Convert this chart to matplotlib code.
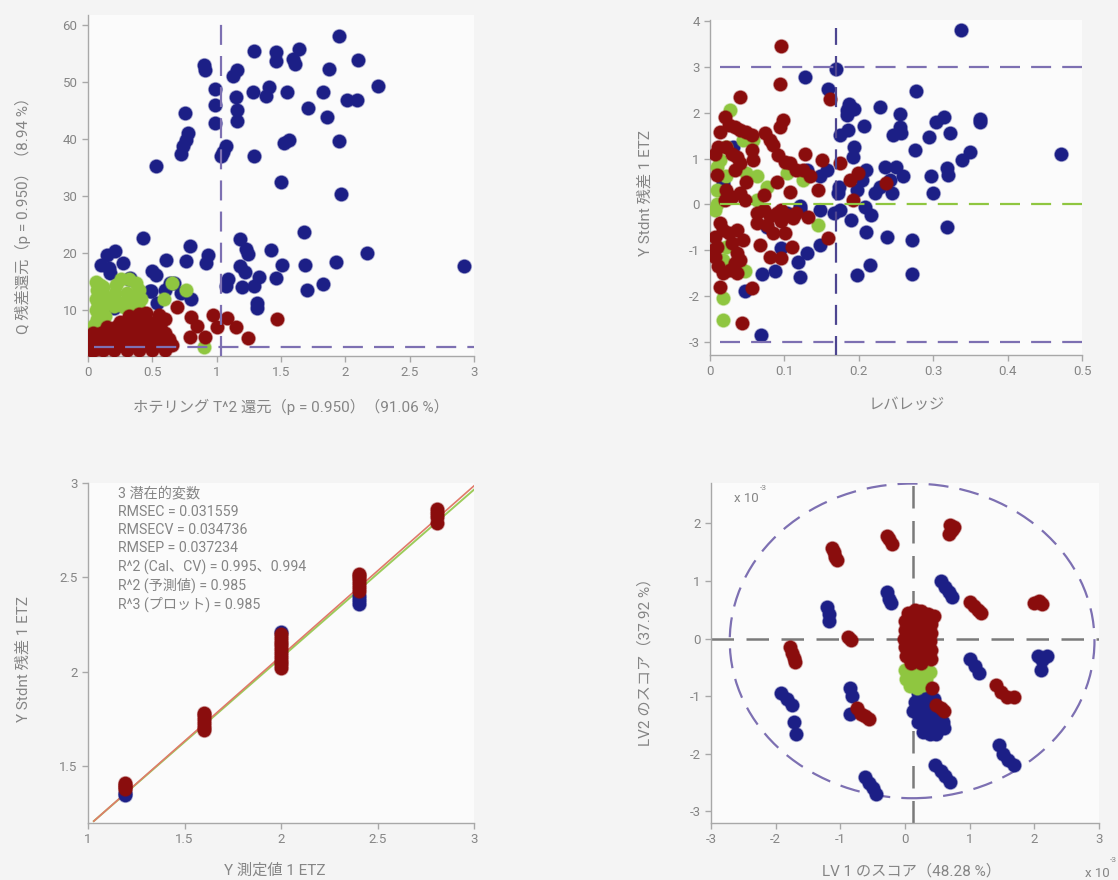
import matplotlib
matplotlib.use("Agg")
import matplotlib.pyplot as plt
from matplotlib.patches import Ellipse
from matplotlib.ticker import FuncFormatter

plt.rcParams['font.family'] = ['Roboto', 'Noto Sans CJK JP', 'DejaVu Sans']

BLUE = '#1c1f86'
RED = '#8a0d0d'
GREEN = '#8fc640'
PURPLE = '#7d70b2'
GRAY_TXT = '#858585'

# ---------------- Plot 1: Hotelling T^2 vs Q residual ----------------
p1_blue_x = [1.95, 1.64, 1.29, 1.46, 1.46, 1.59, 1.61, 2.10, 0.90, 0.91, 1.16, 1.13, 1.87, 1.28, 1.41, 1.38,
             1.55, 0.99, 1.15, 1.83, 2.25, 2.01, 2.09, 0.99, 1.71, 1.16, 1.16, 0.75, 0.99, 1.86, 0.78, 0.76,
             0.74, 0.72, 1.07, 1.03, 1.05, 1.29, 1.52, 1.56, 1.95, 0.53, 1.50, 1.97, 1.68, 0.43, 0.79, 1.18,
             1.23, 1.24, 1.42, 2.17, 2.92, 0.93, 0.92, 0.76, 0.61, 0.21, 0.15, 0.10, 0.16, 0.27, 1.18, 1.22,
             1.51, 1.69, 1.93, 1.09, 1.07, 1.33, 1.29, 1.20, 1.46, 1.83, 1.70, 1.31, 1.31, 0.50, 0.53, 0.49,
             0.60, 0.67, 0.80, 0.32, 0.54, 0.16, 0.20, 0.41, 0.17, 0.33, 0.64, 0.72, 0.48]
p1_blue_y = [58.1, 55.8, 55.4, 55.3, 53.6, 54.0, 53.2, 53.8, 53.0, 52.1, 52.1, 51.1, 52.3, 48.3, 49.1, 47.5,
             48.3, 48.7, 47.3, 48.2, 49.2, 46.9, 46.9, 46.0, 45.4, 45.1, 43.1, 44.5, 42.8, 43.8, 41.0, 39.9,
             38.7, 37.4, 38.7, 37.0, 37.8, 37.1, 39.3, 39.9, 39.6, 35.2, 32.4, 30.4, 23.7, 22.6, 21.3, 22.4,
             20.7, 19.9, 20.5, 20.0, 17.7, 19.7, 18.3, 18.6, 18.8, 20.3, 19.7, 17.9, 17.4, 18.3, 17.7, 16.7,
             17.9, 18.0, 18.5, 15.5, 14.2, 15.8, 14.2, 14.1, 15.7, 14.6, 13.6, 11.2, 10.4, 16.8, 16.1, 13.3,
             13.6, 14.7, 12.0, 15.5, 11.3, 11.3, 10.4, 9.0, 16.6, 15.7, 14.8, 13.1, 13.3]

p1_green_x = [0.06, 0.09, 0.07, 0.11, 0.06, 0.10, 0.08, 0.12, 0.06, 0.09, 0.13, 0.07, 0.10, 0.05, 0.12, 0.14,
              0.22, 0.26, 0.32, 0.37, 0.40, 0.41, 0.39, 0.34, 0.28, 0.23, 0.21, 0.30, 0.33, 0.20,
              0.65, 0.76, 0.59, 0.90]
p1_green_y = [15.0, 14.5, 13.5, 13.0, 12.0, 12.0, 11.0, 10.5, 10.0, 9.5, 9.0, 8.5, 8.0, 7.5, 14.0, 12.0,
              14.5, 15.5, 15.5, 14.8, 13.5, 12.0, 10.8, 10.2, 10.5, 11.5, 13.0, 13.0, 12.0, 10.8,
              14.8, 13.6, 11.9, 3.5]

p1_red_x = [0.02, 0.05, 0.12, 0.20, 0.30, 0.40, 0.50, 0.60,
            0.03, 0.10, 0.18, 0.26, 0.34, 0.42, 0.50, 0.58, 0.65,
            0.02, 0.06, 0.14, 0.22, 0.30, 0.38, 0.46, 0.55, 0.63,
            0.04, 0.10, 0.18, 0.26, 0.34, 0.45, 0.52, 0.60,
            0.15, 0.22, 0.30, 0.38, 0.48, 0.56,
            0.25, 0.35, 0.45, 0.52, 0.45, 0.60,
            0.32, 0.40, 0.55,
            0.69, 0.97, 1.08, 1.00, 1.15, 1.24, 1.47, 0.80, 0.85, 0.91, 0.79]
p1_red_y = [3.0, 3.0, 3.0, 3.0, 3.0, 3.0, 3.0, 3.0,
            4.0, 4.0, 4.0, 4.0, 4.0, 4.0, 4.0, 4.0, 4.0,
            5.0, 5.0, 5.0, 5.0, 5.0, 5.0, 5.0, 5.0, 5.0,
            6.0, 6.0, 6.0, 6.0, 6.0, 6.0, 6.0, 6.0,
            7.0, 7.0, 7.0, 7.0, 7.0, 7.0,
            8.0, 8.0, 8.0, 8.0, 9.5, 8.5,
            9.0, 9.3, 9.2,
            10.6, 9.2, 8.7, 7.0, 7.0, 5.2, 8.4, 8.9, 7.2, 5.4, 5.4]

p1_t2_limit = 1.03
p1_q_limit = 3.5

# ---------------- Plot 2: leverage vs studentized residual ----------------
p2_blue_x = [0.337, 0.170, 0.128, 0.159, 0.277, 0.187, 0.184, 0.193, 0.184, 0.228, 0.255, 0.207, 0.175, 0.186,
             0.255, 0.257, 0.246, 0.295, 0.304, 0.315, 0.323, 0.363, 0.363, 0.349, 0.339, 0.193, 0.192, 0.275,
             0.472, 0.318, 0.320, 0.297, 0.260, 0.235, 0.250, 0.242, 0.229, 0.244, 0.222, 0.300, 0.210, 0.204,
             0.197, 0.172, 0.174, 0.157, 0.148, 0.166, 0.175, 0.189, 0.208, 0.217, 0.318, 0.210, 0.238, 0.271,
             0.215, 0.198, 0.272, 0.130, 0.118, 0.121, 0.087, 0.070, 0.069, 0.047, 0.148, 0.096, 0.121, 0.148,
             0.031, 0.018, 0.103, 0.076, 0.121, 0.130]
p2_blue_y = [3.81, 2.96, 2.77, 2.51, 2.48, 2.20, 2.06, 2.09, 1.95, 2.13, 1.98, 1.71, 1.51, 1.62,
             1.69, 1.55, 1.51, 1.46, 1.80, 1.91, 1.55, 1.87, 1.80, 1.15, 0.97, 1.26, 1.04, 1.19,
             1.11, 0.79, 0.64, 0.63, 0.61, 0.82, 0.82, 0.53, 0.39, 0.24, 0.24, 0.24, 0.75, 0.53,
             0.31, 0.24, 0.39, 0.75, 0.61, -0.19, -0.13, -0.34, -0.06, -0.23, -0.48, -0.59, -0.70, -0.77,
             -1.32, -1.53, -1.51, -1.06, -1.26, -1.57, -1.46, -1.51, -2.84, -1.88, -0.88, -0.95, -0.10, -0.12,
             1.26, 0.46, -0.19, -0.48, -0.03, 0.75]

p2_green_x = [0.027, 0.018, 0.018, 0.047, 0.145, 0.009, 0.013, 0.022, 0.009, 0.007, 0.049, 0.063, 0.063,
              0.022, 0.018, 0.022, 0.045, 0.058, 0.103, 0.125, 0.076, 0.009]
p2_green_y = [2.06, -2.04, -2.51, -1.46, -0.45, 0.82, 0.97, 0.61, 0.00, -0.12, 0.68, 0.61, 0.10,
              -0.92, -1.21, 1.26, 1.40, 1.40, 0.68, 0.53, 0.39, 0.31]

p2_red_x = [0.096, 0.094, 0.040, 0.161, 0.098, 0.094, 0.020, 0.025, 0.034, 0.040, 0.049, 0.056, 0.013, 0.011,
            0.007, 0.022, 0.029, 0.036, 0.040, 0.034, 0.009, 0.074, 0.081, 0.085, 0.056, 0.058, 0.092, 0.101,
            0.107, 0.116, 0.125, 0.134, 0.128, 0.150, 0.175, 0.199, 0.188, 0.237, 0.145, 0.107, 0.090, 0.049,
            0.040, 0.029, 0.022, 0.047, 0.072, 0.192, 0.063, 0.072, 0.081, 0.090, 0.096, 0.103, 0.112, 0.116,
            0.096, 0.063, 0.076, 0.085, 0.101, 0.067, 0.132, 0.110, 0.081, 0.096, 0.159, 0.013, 0.018, 0.007,
            0.009, 0.007, 0.011, 0.018, 0.027, 0.034, 0.036, 0.029, 0.025, 0.036, 0.045, 0.040, 0.013, 0.056,
            0.043, 0.036, 0.004, 0.020]
p2_red_y = [3.46, 2.62, 2.35, 2.30, 1.84, 1.69, 1.91, 1.73, 1.69, 1.62, 1.58, 1.51, 1.58, 1.26,
            1.11, 1.26, 1.11, 1.04, 0.90, 0.75, 0.64, 1.55, 1.40, 1.29, 1.18, 0.97, 1.08, 0.93,
            0.90, 0.75, 0.75, 0.61, 1.11, 0.97, 0.90, 0.68, 0.53, 0.47, 0.31, 0.28, 0.50, 0.50,
            0.24, 0.17, 0.31, 0.10, 0.21, 0.10, -0.19, -0.12, -0.26, -0.19, -0.12, -0.23, -0.30, -0.19,
            -0.37, -0.41, -0.45, -0.63, -0.63, -0.88, -0.27, -0.92, -1.14, -1.17, -0.74, -0.41, -0.56, -0.70,
            -0.92, -1.14, -1.35, -1.50, -1.43, -1.28, -1.06, -0.85, -0.63, -0.56, -0.77, -1.21, -1.79, -1.82,
            -2.59, -1.50, -1.00, 0.10]

p2_leverage_limit = 0.170
p2_resid_limits = [3.0, -3.0]

# ---------------- Plot 3: predicted vs measured ----------------
p3_red_x = [1.193] * 4 + [1.602] * 6 + [2.001] * 10 + [2.405] * 6 + [2.810] * 4
p3_red_y = [1.38, 1.39, 1.40, 1.41,
            1.69, 1.71, 1.73, 1.75, 1.77, 1.78,
            2.02, 2.04, 2.06, 2.08, 2.10, 2.12, 2.14, 2.16, 2.18, 2.20,
            2.43, 2.45, 2.47, 2.49, 2.51, 2.52,
            2.79, 2.82, 2.84, 2.86]
p3_blue_x = [1.193, 1.193, 2.001, 2.405, 2.405, 2.405]
p3_blue_y = [1.35, 1.36, 2.21, 2.36, 2.38, 2.40]
p3_fit_x = [1.03, 3.0]
p3_fit_red_y = [1.21, 2.985]
p3_fit_green_y = [1.21, 2.965]
p3_stats = ["3 潜在的変数",
            "RMSEC = 0.031559",
            "RMSECV = 0.034736",
            "RMSEP = 0.037234",
            "R^2 (Cal、CV) = 0.995、0.994",
            "R^2 (予測値) = 0.985",
            "R^3 (プロット) = 0.985"]

# ---------------- Plot 4: scores (x 1e-3) ----------------
p4_red_x = [0.70, 0.75, 0.72, 0.68, -0.28, -0.24, -0.20, -1.13, -1.10, -1.08, -1.05,
            1.00, 1.07, 1.13, 1.17, 2.00, 2.07, 2.12, -0.88, -0.83,
            -1.78, -1.75, -1.72, -1.70, -0.75, -0.68, -0.62, -0.55,
            1.40, 1.48, 1.58, 1.68, 0.42, 0.48, 0.55, 0.60,
            0.05, 0.15, 0.25, 0.35, 0.45, 0.00, 0.10, 0.20, 0.30, 0.40, 0.00, 0.10, 0.20, 0.30, 0.40,
            -0.02, 0.08, 0.18, 0.28, 0.38, 0.00, 0.10, 0.20, 0.30, 0.40, 0.02, 0.12, 0.22, 0.32, 0.40,
            0.10, 0.25]
p4_red_y = [1.97, 1.93, 1.88, 1.82, 1.78, 1.72, 1.65, 1.58, 1.50, 1.42, 1.36,
            0.63, 0.57, 0.50, 0.45, 0.62, 0.66, 0.60, 0.03, -0.03,
            -0.15, -0.25, -0.33, -0.40, -1.20, -1.30, -1.35, -1.40,
            -0.80, -0.92, -1.02, -1.02, -0.86, -1.15, -1.20, -1.25,
            0.45, 0.50, 0.48, 0.42, 0.40, 0.30, 0.32, 0.30, 0.28, 0.25, 0.15, 0.15, 0.12, 0.10, 0.10,
            0.00, 0.00, -0.02, -0.02, -0.05, -0.15, -0.15, -0.15, -0.18, -0.20, -0.30, -0.30, -0.32, -0.32, -0.35,
            -0.42, -0.42]
p4_blue_x = [0.55, 0.62, 0.68, 0.72, -0.28, -0.25, -0.21, -1.20, -1.18, -1.17,
             1.00, 1.08, 1.15, 2.05, 2.20, 2.12, 2.10,
             -1.92, -1.83, -1.75, -1.72, -1.68, -0.85, -0.82, -0.85,
             -0.62, -0.55, -0.50, -0.45, 0.47, 0.55, 0.62, 0.70, 1.45, 1.52, 1.60, 1.68,
             0.20, 0.30, 0.15, 0.25, 0.35, 0.45, 0.12, 0.22, 0.32, 0.42, 0.52, 0.20, 0.30, 0.40, 0.50,
             0.28, 0.38, 0.48, 0.58, 0.60]
p4_blue_y = [1.00, 0.90, 0.80, 0.72, 0.80, 0.68, 0.62, 0.55, 0.42, 0.30,
             -0.35, -0.48, -0.60, -0.30, -0.30, -0.38, -0.55,
             -0.95, -1.05, -1.15, -1.45, -1.65, -0.85, -1.00, -1.30,
             -2.40, -2.50, -2.60, -2.70, -2.20, -2.30, -2.38, -2.48, -1.85, -2.00, -2.10, -2.20,
             -0.95, -0.98, -1.10, -1.10, -1.15, -1.05, -1.25, -1.30, -1.30, -1.35, -1.35, -1.45, -1.50, -1.50, -1.50,
             -1.62, -1.65, -1.65, -1.45, -1.55]
p4_green_x = [0.00, 0.10, 0.20, 0.30, 0.38, 0.02, 0.12, 0.22, 0.32, 0.08, 0.18, 0.28]
p4_green_y = [-0.55, -0.55, -0.55, -0.55, -0.58, -0.70, -0.70, -0.70, -0.70, -0.82, -0.85, -0.80]
p4_ellipse_center = (0.11, -0.04)
p4_ellipse_axes = (5.64, 5.46)
p4_cross = (0.13, 0.0)

# ---------------- Layout helpers ----------------
W, H = 1118, 880
fig = plt.figure(figsize=(W / 100, H / 100), dpi=100, facecolor='#f4f4f4')


def px(x, y):
    return x / W, 1 - y / H


def make_ax(l, t, r, b):
    ax = fig.add_axes([l / W, 1 - b / H, (r - l) / W, (b - t) / H])
    ax.set_facecolor('#fbfbfb')
    for s in ('top', 'right'):
        ax.spines[s].set_visible(False)
    for s in ('left', 'bottom'):
        ax.spines[s].set_color('#a8a8a8')
        ax.spines[s].set_linewidth(1.0)
    ax.tick_params(colors='#a8a8a8', labelcolor=GRAY_TXT, labelsize=9.5, length=4, width=1)
    fmt = FuncFormatter(lambda v, p: ('%g' % round(v, 6)))
    ax.xaxis.set_major_formatter(fmt)
    ax.yaxis.set_major_formatter(fmt)
    return ax


def label(x, y, s, rot=0):
    fig.text(*px(x, y), s, rotation=rot, ha='center', va='center', fontsize=11, color=GRAY_TXT)


MS = 95
DASH = (0, (9, 5))


def dots(ax, x, y, color):
    ax.scatter(x, y, s=MS, c=color, linewidths=1.2, edgecolors=matplotlib.colors.to_rgba(color, 0.35), zorder=3)


# Plot 1
ax1 = make_ax(88, 15, 474, 356)
dots(ax1, p1_blue_x, p1_blue_y, BLUE)
dots(ax1, p1_green_x, p1_green_y, GREEN)
dots(ax1, p1_red_x, p1_red_y, RED)
ax1.axvline(p1_t2_limit, color=PURPLE, lw=1.6, ls=DASH, zorder=4)
ax1.plot([0.05, 3.0], [p1_q_limit, p1_q_limit], color=PURPLE, lw=1.6, ls=DASH, zorder=4)
ax1.set_xlim(0, 3)
ax1.set_ylim(2.0, 61.7)
ax1.set_xticks([0, 0.5, 1, 1.5, 2, 2.5, 3])
ax1.set_yticks([10, 20, 30, 40, 50, 60])
label(291, 407, "ホテリング T^2 還元（p = 0.950）（91.06 %）")
label(23, 212, "Q 残差還元（p = 0.950）（8.94 %）", 90)

# Plot 2
ax2 = make_ax(710, 20, 1082, 355)
dots(ax2, p2_blue_x, p2_blue_y, BLUE)
dots(ax2, p2_green_x, p2_green_y, GREEN)
dots(ax2, p2_red_x, p2_red_y, RED)
for yv in p2_resid_limits:
    ax2.plot([0.013, 0.5], [yv, yv], color=PURPLE, lw=1.6, ls=DASH, zorder=4)
ax2.plot([0.013, 0.5], [0, 0], color=GREEN, lw=1.6, ls=DASH, zorder=4)
ax2.plot([p2_leverage_limit, p2_leverage_limit], [-3.3, 3.85], color='#4d4590', lw=1.6, ls=DASH, zorder=4)
ax2.set_xlim(0, 0.5)
ax2.set_ylim(-3.28, 4.02)
ax2.set_xticks([0, 0.1, 0.2, 0.3, 0.4, 0.5])
ax2.set_yticks([-3, -2, -1, 0, 1, 2, 3, 4])
label(907, 405, "レバレッジ")
label(645, 193, "Y Stdnt 残差 1 ETZ", 90)

# Plot 3
ax3 = make_ax(88, 483, 474, 823)
ax3.plot(p3_fit_x, p3_fit_green_y, color='#9ccc5a', lw=1.4, zorder=2)
ax3.plot(p3_fit_x, p3_fit_red_y, color='#e07a6a', lw=1.2, zorder=2)
dots(ax3, p3_blue_x, p3_blue_y, BLUE)
dots(ax3, p3_red_x, p3_red_y, RED)
ax3.set_xlim(1, 3)
ax3.set_ylim(1.2, 3.0)
ax3.set_xticks([1, 1.5, 2, 2.5, 3])
ax3.set_yticks([1.5, 2, 2.5, 3])
for i, s in enumerate(p3_stats):
    fig.text(*px(118, 493 + i * 18.5), s, ha='left', va='center', fontsize=10.2, color=GRAY_TXT)
label(275, 871, "Y 測定値 1 ETZ")
label(23, 659, "Y Stdnt 残差 1 ETZ", 90)

# Plot 4
ax4 = make_ax(711, 483, 1099, 823)
ax4.add_patch(Ellipse(p4_ellipse_center, *p4_ellipse_axes, fill=False, ec=PURPLE, lw=1.6, ls=DASH, zorder=2))
ax4.axhline(p4_cross[1], color='#7a7a7a', lw=1.8, ls=DASH, zorder=2)
ax4.axvline(p4_cross[0], color='#7a7a7a', lw=1.8, ls=DASH, zorder=2)
dots(ax4, p4_blue_x, p4_blue_y, BLUE)
dots(ax4, p4_green_x, p4_green_y, GREEN)
dots(ax4, p4_red_x, p4_red_y, RED)
ax4.set_xlim(-3, 3)
ax4.set_ylim(-3.2, 2.7)
ax4.set_xticks([-3, -2, -1, 0, 1, 2, 3])
ax4.set_yticks([-3, -2, -1, 0, 1, 2])
fig.text(*px(746, 498), "x 10", ha='center', va='center', fontsize=9.5, color=GRAY_TXT)
fig.text(*px(763, 488), "-3", ha='center', va='center', fontsize=6, color=GRAY_TXT)
fig.text(*px(1097, 873), "x 10", ha='center', va='center', fontsize=9.5, color=GRAY_TXT)
fig.text(*px(1113, 860), "-3", ha='center', va='center', fontsize=6, color=GRAY_TXT)
label(911, 871, "LV 1 のスコア（48.28 %）")
label(645, 658, "LV2 のスコア（37.92 %）", 90)

fig.savefig("out.png", dpi=100, facecolor=fig.get_facecolor())
